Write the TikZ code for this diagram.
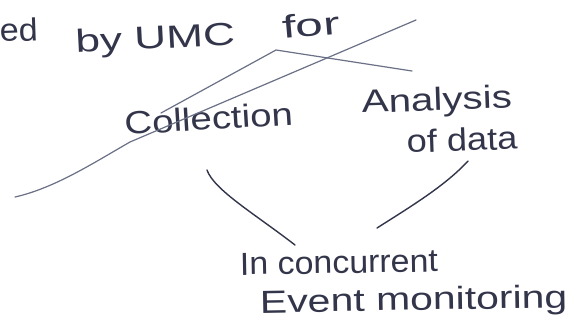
\documentclass[tikz,border=0pt]{standalone}
\usepackage{fontspec}
\setmainfont{Liberation Sans}
\usepackage{graphicx}
\definecolor{ink}{HTML}{33354A}
\definecolor{inklight}{HTML}{6A7085}
\begin{document}
\begin{tikzpicture}[x=1pt,y=-1pt,
  hw/.style={text=ink, inner sep=0pt, anchor=base west, font=\fontsize{32}{34}\selectfont},
  pen/.style={draw=ink, line width=1.4pt, line cap=round, line join=round},
  strike/.style={draw=inklight, line width=1.2pt, line cap=round, line join=round}]
\useasboundingbox (0,0) rectangle (572,322);
\fill[white] (0,0) rectangle (572,322);

% top words
\node[hw, rotate=2] (ed) at (0,42) {\scalebox{1.07}[1]{ed}};
\node[hw, rotate=3] (byumc) at (76,53) {\scalebox{1.38}[1]{by UMC}};
\node[hw, rotate=5] (for) at (283,39) {\scalebox{1.55}[1]{for}};

% middle words
\node[hw, rotate=3.5] (coll) at (125,135) {\scalebox{1.2}[1]{Collection}};
\node[hw, rotate=2] (anal) at (362,113) {\scalebox{1.26}[1]{Analysis}};
\node[hw, rotate=2] (data) at (407,153) {\scalebox{1.13}[1]{of data}};

% bottom words
\node[hw, rotate=1] (inc) at (240,275) {\scalebox{1.06}[1]{In concurrent}};
\node[hw, rotate=1] (evm) at (260,313) {\scalebox{1.28}[1]{Event monitoring}};

% strike lines
\coordinate (sa1) at (161,113);
\coordinate (sa2) at (276,50);
\coordinate (sa3) at (412,71);
\draw[strike] (sa1) -- (sa2) -- (sa3);
\coordinate (sb1) at (15,197);
\coordinate (sb2) at (130,142);
\coordinate (sb3) at (416,20);
\draw[strike] (sb1) .. controls (55,188) and (95,162) .. (sb2) -- (sb3);

% arrows
\coordinate (a1s) at (295,245);
\coordinate (a1e) at (207,170);
\draw[pen] (a1s) .. controls (255,214) and (214,190) .. (a1e);
\coordinate (a2s) at (377,228);
\coordinate (a2e) at (468,161);
\draw[pen] (a2s) .. controls (410,207) and (445,186) .. (a2e);
\end{tikzpicture}
\end{document}
